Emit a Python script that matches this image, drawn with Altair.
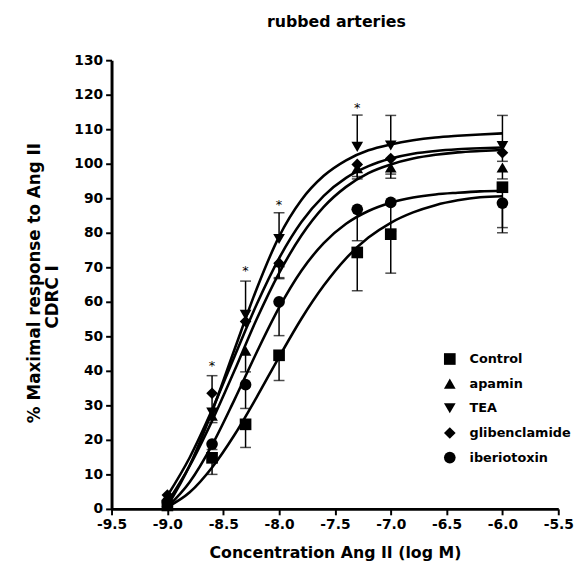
import altair as alt
import pandas as pd

# ---------------- data ----------------
series = ["Control", "apamin", "TEA", "glibenclamide", "iberiotoxin"]
shapes = ["square", "triangle-up", "triangle-down", "diamond", "circle"]

conc = [-9.0, -8.6, -8.3, -8.0, -7.3, -7.0, -6.0]

mean_control = [1.0, 14.8, 24.5, 44.5, 74.3, 79.6, 93.2]
mean_apamin = [2.0, 27.0, 45.8, 71.5, 98.7, 98.9, 98.9]
mean_tea = [1.0, 27.9, 56.2, 78.2, 104.9, 105.3, 105.1]
mean_glib = [4.0, 33.5, 54.3, 71.2, 99.8, 101.5, 103.2]
mean_iberio = [2.0, 18.8, 36.0, 60.0, 86.8, 88.8, 88.6]

# one-sided error bars (SEM); TEA drawn upward, the others downward
err_control = [0, 4.8, 6.7, 7.3, 11.1, 11.3, 11.7]
err_apamin = [0, 2.0, 6.1, 4.8, 3.1, 3.1, 3.3]
err_tea = [0, 10.7, 9.8, 7.6, 9.2, 8.7, 8.9]
err_glib = [0, 0, 0, 4.2, 3.5, 4.5, 2.5]
err_iberio = [0, 1.6, 6.9, 9.8, 9.1, 8.3, 8.6]
err_direction = [-1, -1, 1, -1, -1]

# fitted curves
fit_x = [-9.0, -8.8, -8.6, -8.4, -8.2, -8.0, -7.8, -7.6, -7.4, -7.2,
         -7.0, -6.8, -6.6, -6.4, -6.2, -6.0]
fit_control = [0.5, 4.8, 12.0, 21.4, 32.4, 44.0, 55.1, 64.7, 72.6, 78.6,
               82.9, 85.9, 88.0, 89.4, 90.3, 90.6]
fit_apamin = [1.9, 12.5, 25.5, 40.0, 55.0, 68.3, 79.2, 87.5, 93.3, 97.3,
              99.8, 101.5, 102.6, 103.3, 103.7, 104.0]
fit_tea = [0.8, 12.6, 28.2, 46.1, 63.8, 78.9, 89.5, 96.5, 101.0, 103.9,
           105.6, 106.8, 107.6, 108.1, 108.5, 108.8]
fit_glib = [3.8, 14.9, 28.7, 44.1, 59.3, 72.6, 83.1, 90.7, 95.9, 99.3,
            101.5, 102.9, 103.7, 104.2, 104.5, 104.7]
fit_iberio = [0.5, 7.8, 18.5, 31.6, 45.4, 58.3, 69.0, 77.0, 82.6, 86.3,
              88.7, 90.2, 91.1, 91.6, 92.0, 92.2]

# significance asterisks
ast_x = [-8.6, -8.3, -8.0, -7.3]
ast_y = [42.6, 70.0, 89.3, 117.4]

x_ticks = [-9.5, -9.0, -8.5, -8.0, -7.5, -7.0, -6.5, -6.0, -5.5]
y_ticks = list(range(0, 131, 10))

title_text = "rubbed arteries"
x_title = "Concentration Ang II (log M)"
y_title_1 = "% Maximal response to Ang II"
y_title_2 = "CDRC I"

# ---------------- tables ----------------
means = [mean_control, mean_apamin, mean_tea, mean_glib, mean_iberio]
errs = [err_control, err_apamin, err_tea, err_glib, err_iberio]
fits = [fit_control, fit_apamin, fit_tea, fit_glib, fit_iberio]

pts_rows, err_rows, fit_rows = [], [], []
for s, m, e, d, f in zip(series, means, errs, err_direction, fits):
    for xv, mv, ev in zip(conc, m, e):
        pts_rows.append({"x": xv, "y": mv, "series": s})
        if ev > 0:
            err_rows.append({"x": xv, "y": mv, "yend": mv + d * ev, "series": s})
    for xv, yv in zip(fit_x, f):
        fit_rows.append({"x": xv, "y": yv, "series": s})

pts = pd.DataFrame(pts_rows)
errdf = pd.DataFrame(err_rows)
fitdf = pd.DataFrame(fit_rows)
astdf = pd.DataFrame({"x": ast_x, "y": ast_y, "t": ["*"] * len(ast_x)})

FONT = "DejaVu Sans"

xscale = alt.Scale(domain=[-9.5, -5.5], nice=False, zero=False)
yscale = alt.Scale(domain=[0, 130], nice=False, zero=False)

x_axis = alt.Axis(
    values=x_ticks, title=x_title,
    labelExpr="datum.value % 1 == 0 ? datum.value + '.0' : '' + datum.value",
)
y_axis = alt.Axis(values=y_ticks, title=None, format="d")

X = alt.X("x:Q", scale=xscale, axis=x_axis)
Y = alt.Y("y:Q", scale=yscale, axis=y_axis)
YE = alt.Y("yend:Q", scale=yscale, axis=y_axis)

curves = alt.Chart(fitdf).mark_line(
    color="black", strokeWidth=2.6, interpolate="monotone"
).encode(x=X, y=Y, detail="series:N")

rules = alt.Chart(errdf).mark_rule(color="black", strokeWidth=1.5).encode(
    x=X, y=Y, y2="yend:Q")

caps = alt.Chart(errdf).mark_tick(
    color="black", orient="horizontal", size=11, thickness=1.5
).encode(x=X, y=YE)

points = alt.Chart(pts).mark_point(
    filled=True, color="black", opacity=1, size=140
).encode(
    x=X, y=Y,
    shape=alt.Shape("series:N", scale=alt.Scale(domain=series, range=shapes),
                    legend=alt.Legend(
                        title=None, orient="none", legendX=336, legendY=296,
                        symbolSize=140, symbolFillColor="black",
                        symbolStrokeColor="black", labelFont=FONT,
                        labelFontSize=13, labelFontWeight="bold",
                        labelColor="black", rowPadding=7, labelOffset=13,
                        padding=0)),
)

asterisks = alt.Chart(astdf).mark_text(
    font=FONT, fontSize=13, color="black", baseline="middle", dy=4
).encode(x=X, y=Y, text="t:N")

title = alt.Chart(pd.DataFrame({"t": [title_text]})).mark_text(
    font=FONT, fontSize=16, fontWeight="bold", color="black",
    baseline="middle", align="center"
).encode(x=alt.value(228), y=alt.value(-39), text="t:N")

ytitle1 = alt.Chart(pd.DataFrame({"t": [y_title_1]})).mark_text(
    font=FONT, fontSize=17, fontWeight="bold", color="black",
    baseline="middle", align="center", angle=270
).encode(x=alt.value(-78), y=alt.value(226), text="t:N")

ytitle2 = alt.Chart(pd.DataFrame({"t": [y_title_2]})).mark_text(
    font=FONT, fontSize=17, fontWeight="bold", color="black",
    baseline="middle", align="center", angle=270
).encode(x=alt.value(-59), y=alt.value(240), text="t:N")

chart = alt.layer(
    curves, rules, caps, points, asterisks, title, ytitle1, ytitle2
).properties(
    width=453, height=455, autosize="none", background="white",
    padding={"left": 105, "top": 49, "right": 20, "bottom": 56},
).configure_view(
    stroke=None
).configure_axis(
    domainColor="black", domainWidth=3, tickColor="black", tickWidth=2,
    tickSize=6, labelFont=FONT, labelFontSize=14, labelFontWeight="bold",
    labelColor="black", grid=False, labelPadding=3, labelOverlap=False,
    labelFlush=False, titleFont=FONT, titleFontSize=16,
    titleFontWeight="bold", titleColor="black", titlePadding=13,
)

chart.save("out.html", embed_options={"renderer": "svg", "actions": False})
